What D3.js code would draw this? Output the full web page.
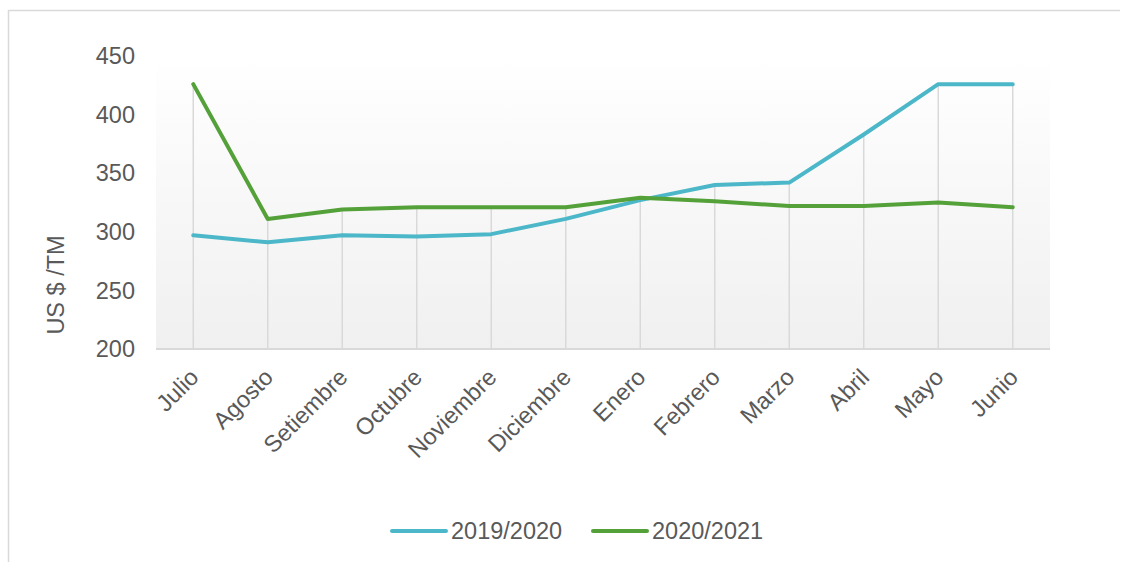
<!DOCTYPE html>
<html>
<head>
  <meta charset="utf-8">
  <title>Precio US $ /TM</title>
  <script src="https://cdn.jsdelivr.net/npm/d3@7"></script>
</head>
<style>
  html,
  body {
    margin: 0;
    padding: 0;
    background: #fff;
    overflow: hidden
  }

  svg {
    font-family: "Liberation Sans", Arial, sans-serif;
  }
</style>
<body>
  <div id="chart"></div>
</body>
<script>
  const months = ['Julio', 'Agosto', 'Setiembre', 'Octubre', 'Noviembre', 'Diciembre',
    'Enero', 'Febrero', 'Marzo', 'Abril', 'Mayo', 'Junio']
  const s2019 = [297, 291, 297, 296, 298, 311, 327, 340, 342, 383, 426, 426]
  const s2020 = [426, 311, 319, 321, 321, 321, 329, 326, 322, 322, 325, 321]
  const seriesNames = ['2019/2020', '2020/2021']
  const yTicks = [200, 250, 300, 350, 400, 450]

  const colors = ['#4bb7c8', '#54a13a']
  const W = 1130, H = 562
  const plotLeft = 156, plotRight = 1050, plotTop = 56, plotBottom = 349
  const fs = 23.5

  const svg = d3.select('#chart').append('svg')
    .attr('width', W).attr('height', H)

  // chart frame (left + top edges visible)
  svg.append('line').attr('x1', 8.5).attr('x2', 8.5).attr('y1', 10).attr('y2', H)
    .attr('stroke', '#d9d9d9').attr('stroke-width', 1.5)
  svg.append('line').attr('x1', 8).attr('x2', 1120).attr('y1', 10.5).attr('y2', 10.5)
    .attr('stroke', '#d9d9d9').attr('stroke-width', 1.5)

  const x = d3.scalePoint().domain(months).range([plotLeft, plotRight]).padding(0.5)
  const y = d3.scaleLinear().domain([200, 450]).range([plotBottom, plotTop])

  const defs = svg.append('defs')
  const grad = defs.append('linearGradient').attr('id', 'bg')
    .attr('x1', 0).attr('y1', 0).attr('x2', 0).attr('y2', 1)
  grad.append('stop').attr('offset', '0%').attr('stop-color', '#ffffff')
  grad.append('stop').attr('offset', '100%').attr('stop-color', '#f0f0f0')

  svg.append('rect').attr('x', plotLeft).attr('y', plotTop)
    .attr('width', plotRight - plotLeft).attr('height', plotBottom - plotTop)
    .attr('fill', 'url(#bg)')

  // drop lines from highest point down to the axis
  svg.append('g').selectAll('line')
    .data(months)
    .enter().append('line')
    .attr('x1', d => x(d)).attr('x2', d => x(d))
    .attr('y1', (d, i) => y(Math.max(s2019[i], s2020[i])))
    .attr('y2', y(200))
    .attr('stroke', '#d9d9d9').attr('stroke-width', 1.5)

  svg.append('line').attr('x1', plotLeft).attr('x2', plotRight)
    .attr('y1', y(200)).attr('y2', y(200))
    .attr('stroke', '#d9d9d9').attr('stroke-width', 2)

  // y axis labels
  svg.append('g').selectAll('text')
    .data(yTicks)
    .enter().append('text')
    .attr('x', 135)
    .attr('y', d => y(d))
    .attr('dy', '0.35em')
    .attr('text-anchor', 'end')
    .attr('font-size', fs)
    .attr('fill', '#595959')
    .text(d => d)

  svg.append('text')
    .attr('transform', 'translate(64,' + 285 + ') rotate(-90)')
    .attr('text-anchor', 'middle')
    .attr('font-size', fs)
    .attr('fill', '#595959')
    .text('US $ /TM')

  // x labels, rotated
  svg.append('g').selectAll('text')
    .data(months)
    .enter().append('text')
    .attr('transform', d => 'translate(' + (x(d) + 1) + ',373) rotate(-45)')
    .attr('text-anchor', 'end')
    .attr('dy', '0.35em')
    .attr('font-size', fs)
    .attr('fill', '#595959')
    .text(d => d)

  const line = d3.line().x((d, i) => x(months[i])).y(d => y(d))

  ;[s2019, s2020].forEach((s, k) => {
    svg.append('path')
      .datum(s)
      .attr('d', line)
      .attr('fill', 'none')
      .attr('stroke', colors[k])
      .attr('stroke-width', 4)
      .attr('stroke-linecap', 'round')
      .attr('stroke-linejoin', 'round')
  })

  // legend
  const legX = [392, 593]
  seriesNames.forEach((name, k) => {
    const g = svg.append('g').attr('transform', 'translate(' + legX[k] + ',531)')
    g.append('line').attr('x1', 0).attr('x2', 54).attr('y1', 0).attr('y2', 0)
      .attr('stroke', colors[k]).attr('stroke-width', 4).attr('stroke-linecap', 'round')
    g.append('text').attr('x', 59).attr('dy', '0.35em')
      .attr('font-size', fs).attr('fill', '#595959')
      .text(name)
  })
</script>
</html>
